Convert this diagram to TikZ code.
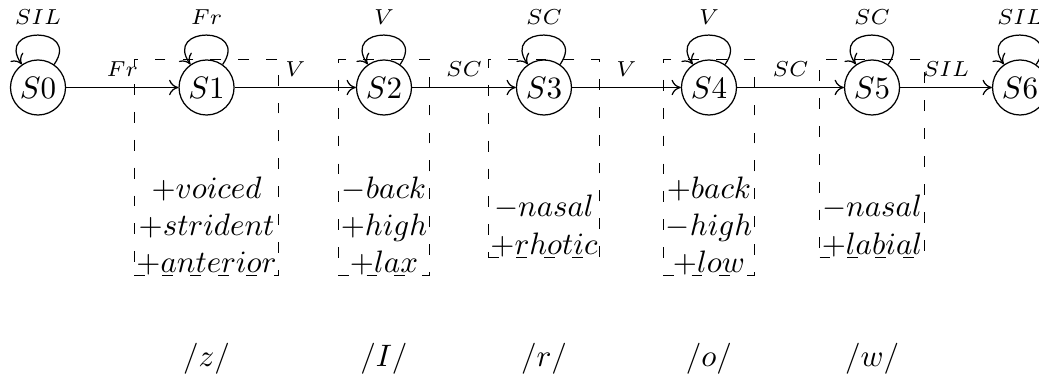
\documentclass[tikz,border=0pt]{standalone}
\usepackage{amsmath,amssymb}
\usepackage{tikz}
\usetikzlibrary{arrows.meta,fit}

\begin{document}
\begin{tikzpicture}[
  >={To[length=3pt,width=5pt]},
  every node/.style={font=\normalsize},
  hmmstate/.style={circle, draw, thin, inner sep=0pt, minimum size=0.624cm},
  trans/.style={thin, ->},
  selfloop/.style={out=55, in=125, distance=0.54cm},
  translabel/.style={font=\scriptsize, above},
  feat/.style={align=center, inner sep=0pt},
  featbox/.style={draw, thin, dash pattern=on 3.5pt off 5.5pt, inner xsep=0.5pt, inner ysep=0pt},
]
\useasboundingbox (-0.431,-3.260) rectangle (11.350,0.992);

%%% States %%%
\foreach \n/\x in {0/0, 1/1.911, 2/3.923, 3/5.737, 4/7.608, 5/9.457, 6/11.135} {
  \node[hmmstate] (s\n) at (\x,0) {$S\n$};
}

%%% Feature bundles under the states %%%
\node[feat] (f1) at (1.911,-1.570) {$+voiced$\\$+strident$\\$+anterior$};
\node[feat] (f2) at (3.923,-1.570) {$-back$\\$+high$\\$+lax$};
\node[feat] (f3) at (5.737,-1.570) {$-nasal$\\$+rhotic$};
\node[feat] (f4) at (7.608,-1.570) {$+back$\\$-high$\\$+low$};
\node[feat] (f5) at (9.457,-1.570) {$-nasal$\\$+labial$};

% Dashed frames round state + features
\foreach \n in {1,...,5} {
  \node[featbox, fit=(s\n)(f\n)] (box\n) {};
}

%%% Phonemes %%%
\node[anchor=base] (p1) at (1.911,-3.169) {$/z/$};
\node[anchor=base] (p2) at (3.923,-3.169) {$/I/$};
\node[anchor=base] (p3) at (5.737,-3.169) {$/r/$};
\node[anchor=base] (p4) at (7.608,-3.169) {$/o/$};
\node[anchor=base] (p5) at (9.457,-3.169) {$/w/$};

%%% Transitions %%%
\draw[trans] (s0) -- node[translabel] {$Fr$} (s1);
\draw[trans] (s1) -- node[translabel] {$V$} (s2);
\draw[trans] (s2) -- node[translabel] {$SC$} (s3);
\draw[trans] (s3) -- node[translabel] {$V$} (s4);
\draw[trans] (s4) -- node[translabel] {$SC$} (s5);
\draw[trans] (s5) -- node[translabel] {$SIL$} (s6);

% Self loops
\draw[trans] (s0) to[selfloop] node[translabel] {$SIL$} (s0);
\draw[trans] (s1) to[selfloop] node[translabel] {$Fr$} (s1);
\draw[trans] (s2) to[selfloop] node[translabel] {$V$} (s2);
\draw[trans] (s3) to[selfloop] node[translabel] {$SC$} (s3);
\draw[trans] (s4) to[selfloop] node[translabel] {$V$} (s4);
\draw[trans] (s5) to[selfloop] node[translabel] {$SC$} (s5);
\draw[trans] (s6) to[selfloop] node[translabel] {$SIL$} (s6);

\end{tikzpicture}
\end{document}
